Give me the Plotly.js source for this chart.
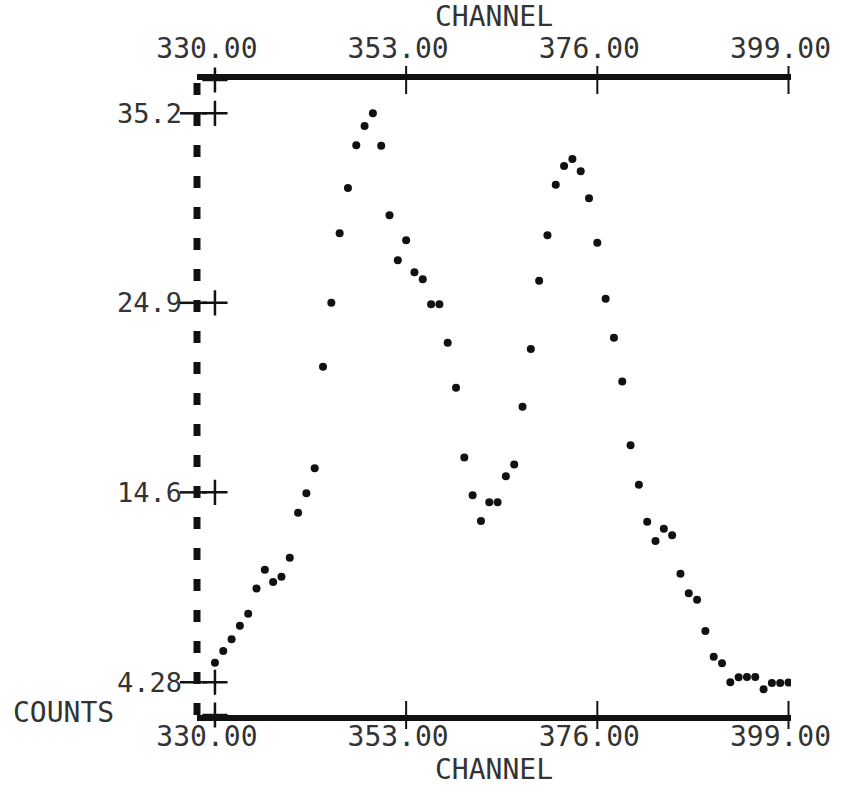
<!DOCTYPE html>
<html>
<head>
<meta charset="utf-8">
<script src="https://cdn.plot.ly/plotly-3.0.1.min.js"></script>
<style>
  html, body { margin: 0; padding: 0; background: #ffffff; }
  #chart { width: 843px; height: 800px; }
</style>
</head>
<body>
<div id="chart"></div>
<script>
// ---- data ----
const channels = [330, 331, 332, 333, 334, 335, 336, 337, 338, 339,
                  340, 341, 342, 343, 344, 345, 346, 347, 348, 349,
                  350, 351, 352, 353, 354, 355, 356, 357, 358, 359,
                  360, 361, 362, 363, 364, 365, 366, 367, 368, 369,
                  370, 371, 372, 373, 374, 375, 376, 377, 378, 379,
                  380, 381, 382, 383, 384, 385, 386, 387, 388, 389,
                  390, 391, 392, 393, 394, 395, 396, 397, 398, 399];
const counts = [5.34, 5.98, 6.61, 7.35, 8.00, 9.38, 10.40, 9.73, 10.02, 11.05,
                13.49, 14.55, 15.91, 21.43, 24.91, 28.68, 31.14, 33.46, 34.51, 35.20,
                33.44, 29.66, 27.21, 28.30, 26.56, 26.18, 24.82, 24.82, 22.73, 20.29,
                16.50, 14.44, 13.04, 14.06, 14.06, 15.47, 16.12, 19.25, 22.39, 26.10,
                28.57, 31.32, 32.34, 32.72, 32.05, 30.58, 28.17, 25.12, 23.00, 20.63,
                17.16, 15.02, 13.00, 11.96, 12.62, 12.27, 10.18, 9.11, 8.77, 7.06,
                5.67, 5.31, 4.28, 4.55, 4.56, 4.56, 3.90, 4.24, 4.24, 4.26];
const xTickVals = [330, 353, 376, 399];
const xTickText = ["330.00", "353.00", "376.00", "399.00"];
const yTickVals = [4.28, 14.6, 24.9, 35.2];
const yTickText = ["4.28", "14.6", "24.9", "35.2"];
const xTitle = "CHANNEL";
const yTitle = "COUNTS";

// ---- layout geometry ----
const xRange = [327.84, 399.3];
const yRange = [2.50, 37.01];
const M = { l: 197, r: 52, t: 80, b: 85 };
const plotW = 843 - M.l - M.r;
const plotH = 800 - M.t - M.b;
const ink = "#111111";
const textInk = "#333333";
const monoFont = "DejaVu Sans Mono, Liberation Mono, monospace";

const traces = [
  {
    type: "scatter", mode: "markers",
    x: channels, y: counts,
    marker: { color: ink, size: 8 },
    showlegend: false, hoverinfo: "x+y"
  },
  { // same data on the top axis (invisible) so the mirrored axis is drawn
    type: "scatter", mode: "markers",
    x: channels, y: counts, xaxis: "x2", yaxis: "y",
    marker: { color: "rgba(0,0,0,0)", size: 1 },
    showlegend: false, hoverinfo: "skip"
  },
  { // printer "+" marks on the first channel column at each count tick and corners
    type: "scatter", mode: "markers",
    x: [xTickVals[0], xTickVals[0], xTickVals[0], xTickVals[0], xTickVals[0], xTickVals[0]],
    y: yTickVals.concat([yRange[0], yRange[1]]),
    marker: { symbol: "cross-thin", size: 18, line: { color: ink, width: 2.5 } },
    cliponaxis: false, showlegend: false, hoverinfo: "skip"
  }
];

const shapes = [];
// dashed counts axis
shapes.push({
  type: "line", xref: "paper", yref: "paper", x0: 0, x1: 0, y0: 0, y1: 1,
  line: { color: ink, width: 7, dash: "12px,19px" }
});
// channel ticks crossing top and bottom axis lines
xTickVals.slice(1).forEach(v => {
  shapes.push({ type: "line", xref: "x", yref: "paper", x0: v, x1: v,
    y0: -14 / plotH, y1: 14 / plotH, line: { color: ink, width: 2 } });
  shapes.push({ type: "line", xref: "x", yref: "paper", x0: v, x1: v,
    y0: 1 - 14 / plotH, y1: 1 + 14 / plotH, line: { color: ink, width: 2 } });
});
// count ticks crossing the dashed axis
yTickVals.forEach(v => {
  shapes.push({ type: "line", xref: "paper", yref: "y",
    x0: -17 / plotW, x1: 10 / plotW, y0: v, y1: v,
    line: { color: ink, width: 2.5 } });
});

const xCommon = {
  range: xRange, tickmode: "array", tickvals: xTickVals, ticktext: xTickText,
  ticks: "", showgrid: false, zeroline: false,
  showline: true, linecolor: ink, linewidth: 6,
  tickfont: { family: monoFont, size: 28, color: textInk },
  ticklabelshift: -8
};

const layout = {
  width: 843, height: 800,
  margin: M,
  paper_bgcolor: "#ffffff", plot_bgcolor: "#ffffff",
  showlegend: false,
  xaxis: Object.assign({}, xCommon, {
    side: "bottom", anchor: "y",
    ticklabelstandoff: -9,
    title: { text: xTitle, font: { family: monoFont, size: 28, color: textInk }, standoff: 2 }
  }),
  xaxis2: Object.assign({}, xCommon, {
    side: "top", anchor: "y", overlaying: "x", matches: "x",
    ticklabelstandoff: 5,
    title: { text: xTitle, font: { family: monoFont, size: 28, color: textInk }, standoff: 6 }
  }),
  yaxis: {
    range: yRange, tickmode: "array", tickvals: yTickVals, ticktext: yTickText,
    ticks: "", showgrid: false, zeroline: false, showline: false,
    tickfont: { family: monoFont, size: 27, color: textInk },
    ticklabelstandoff: 14
  },
  annotations: [{
    xref: "paper", yref: "paper",
    x: -(M.l - 11) / plotW, y: 3 / plotH,
    xanchor: "left", yanchor: "middle",
    text: yTitle, showarrow: false,
    font: { family: monoFont, size: 28, color: textInk }
  }],
  shapes: shapes
};

Plotly.newPlot("chart", traces, layout, { displayModeBar: false, staticPlot: true });
</script>
</body>
</html>
